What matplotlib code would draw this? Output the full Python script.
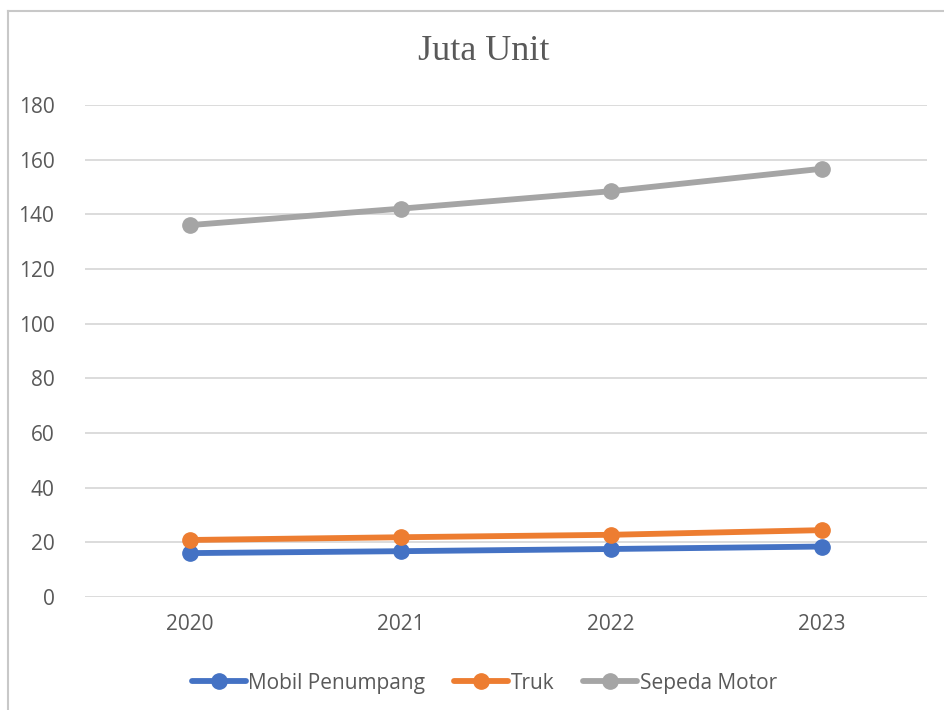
import numpy as np
import matplotlib.pyplot as plt
from matplotlib.lines import Line2D

# data
tahun = ["2020", "2021", "2022", "2023"]
mobil_penumpang = [16.1, 16.8, 17.6, 18.5]
truk = [20.9, 21.9, 22.8, 24.5]
sepeda_motor = [136.1, 142.1, 148.5, 156.7]

nama_seri = ["Mobil Penumpang", "Truk", "Sepeda Motor"]
warna = ["#4472C4", "#ED7D31", "#A5A5A5"]

fig = plt.figure(figsize=(9.44, 7.10), dpi=100)
ax = fig.add_axes([0.090, 0.159, 0.892, 0.693])

x = np.arange(len(tahun))
for seri, nama, w in zip([mobil_penumpang, truk, sepeda_motor], nama_seri, warna):
    ax.plot(x, seri, color=w, lw=4.2, marker="o", ms=11, label=nama,
            solid_capstyle="round", zorder=3)

ax.set_xlim(-0.5, 3.5)
ax.set_ylim(0, 180)
ax.set_yticks(np.arange(0, 181, 20))
ax.set_xticks(x)
ax.set_xticklabels(tahun)
ax.grid(axis="y", color="#D9D9D9", lw=1.3)
ax.set_axisbelow(True)
for s in ax.spines.values():
    s.set_visible(False)
ax.tick_params(length=0, labelsize=15, labelcolor="#595959", pad=12)
ax.tick_params(axis="y", pad=22)
for lab in ax.get_xticklabels() + ax.get_yticklabels():
    lab.set_fontfamily("Open Sans")

fig.text(0.512, 0.927, "Juta Unit", ha="center", va="center",
         fontsize=26, family="Liberation Serif", color="#595959")

leg = fig.legend(loc="center", bbox_to_anchor=(0.513, 0.038), ncol=3, frameon=False,
                 handlelength=2.6, handletextpad=0.1, columnspacing=1.4,
                 prop={"family": "Open Sans", "size": 15})
for t in leg.get_texts():
    t.set_color("#595959")

# bingkai halaman di kiri dan atas
fig.add_artist(Line2D([0.009, 0.009], [0, 0.985], color="#C8C8C8", lw=1.5))
fig.add_artist(Line2D([0.009, 1], [0.985, 0.985], color="#C8C8C8", lw=1.5))

fig.savefig("out.png", dpi=100)
